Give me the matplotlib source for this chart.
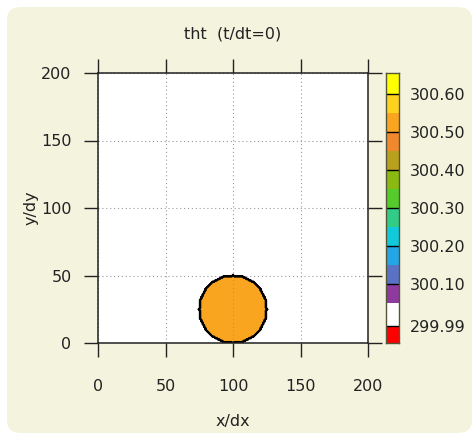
import numpy as np
import matplotlib
matplotlib.use('Agg')
import matplotlib.pyplot as plt
from matplotlib.colors import ListedColormap, BoundaryNorm
from matplotlib.patches import FancyBboxPatch

plt.rcParams['font.family'] = ['DejaVu Sans']

# bubble setup (grid units)
nx, ny = 201, 201
theta_env = 300.0
theta_pert = 0.5
bubble_x = 100.0
bubble_y = 25.0
bubble_r = 25.0

# contour levels and colours
levels = [299.99, 300.05, 300.10, 300.15, 300.20, 300.25, 300.30,
          300.35, 300.40, 300.45, 300.50, 300.55, 300.60]
label_levels = [299.99, 300.10, 300.20, 300.30, 300.40, 300.50, 300.60]
colors = ['#FFFFFF', '#8E3A9E', '#5A72C6', '#22A6E6', '#10CADB', '#30CC88',
          '#55CC2C', '#8ABA12', '#B9A11E', '#F0882E', '#FAA51F', '#FFD21E']
color_under = '#FF0000'
color_over = '#FFFF00'
ticks = [0, 50, 100, 150, 200]

x = np.arange(nx)
y = np.arange(ny)
X, Y = np.meshgrid(x, y)
r = np.sqrt((X - bubble_x)**2 + (Y - bubble_y)**2)
tht = np.where(r <= bubble_r, theta_env + theta_pert, theta_env)

cmap = ListedColormap(colors)
cmap.set_under(color_under)
cmap.set_over(color_over)

# lower-inclusive bins (value 300.5 belongs to the 300.50-300.55 band)
eps = 1e-6
plot_levels = np.array(levels) - eps
plot_norm = BoundaryNorm(plot_levels, cmap.N)

fs = 11.5
fig = plt.figure(figsize=(4.75, 4.34), dpi=100)
fig.patch.set_facecolor('white')
bg = FancyBboxPatch((7/475, 1 - 433/434), (472-7)/475, (433-7)/434,
                    boxstyle='round,pad=0,rounding_size=0.03',
                    transform=fig.transFigure, facecolor='#F3F3DE',
                    edgecolor='none', zorder=-10)
fig.patches.append(bg)

ax = fig.add_axes([98/475, 91/434, 270/475, 270/434])
ax.set_facecolor('white')
ax.contourf(X, Y, tht, levels=plot_levels, cmap=cmap, norm=plot_norm, extend='both')
ax.contour(X, Y, tht, levels=np.array(label_levels) - eps, colors='black',
           linewidths=1.0)
ax.set_xlim(0, 200)
ax.set_ylim(0, 200)
ax.set_xticks(ticks)
ax.set_yticks(ticks)
ax.grid(True, color='#999999', linestyle=(0, (1, 2.5)), linewidth=0.8)
ax.tick_params(direction='out', length=10, width=1, color='#222222',
               top=True, right=True, labelsize=fs, labelcolor='#222222')
ax.tick_params(axis='x', pad=16)
ax.tick_params(axis='y', pad=9)
for s in ax.spines.values():
    s.set_color('#222222')
    s.set_linewidth(1.1)
ax.set_title('tht  (t/dt=0)', fontsize=fs, color='#222222', pad=25)
ax.set_xlabel('x/dx', fontsize=fs, color='#222222', labelpad=14)
ax.set_ylabel('y/dy', fontsize=fs, color='#222222', labelpad=2)

# colour key, drawn as boxes between the levels
ext_lo = levels[0] - 0.045
ext_hi = levels[-1] + 0.054
cax = fig.add_axes([386/475, 91/434, 13/475, 270/434])
bottoms = [ext_lo] + levels
tops = levels + [ext_hi]
box_colors = [color_under] + colors + [color_over]
cax.bar(np.zeros(len(bottoms)), np.array(tops) - np.array(bottoms), bottom=bottoms,
        width=1.0, color=box_colors, edgecolor='none', align='center')
cax.hlines(label_levels, -0.5, 0.5, colors='black', linewidth=1.0)
cax.set_xlim(-0.5, 0.5)
cax.set_ylim(ext_lo, ext_hi)
cax.set_xticks([])
cax.yaxis.tick_right()
cax.set_yticks(label_levels)
cax.set_yticklabels(['%.2f' % v for v in label_levels])
cax.tick_params(axis='y', length=0, pad=8, labelsize=fs, labelcolor='#222222')
for s in cax.spines.values():
    s.set_color('#55553A')
    s.set_linewidth(1.0)

fig.savefig('out.png', dpi=100)
